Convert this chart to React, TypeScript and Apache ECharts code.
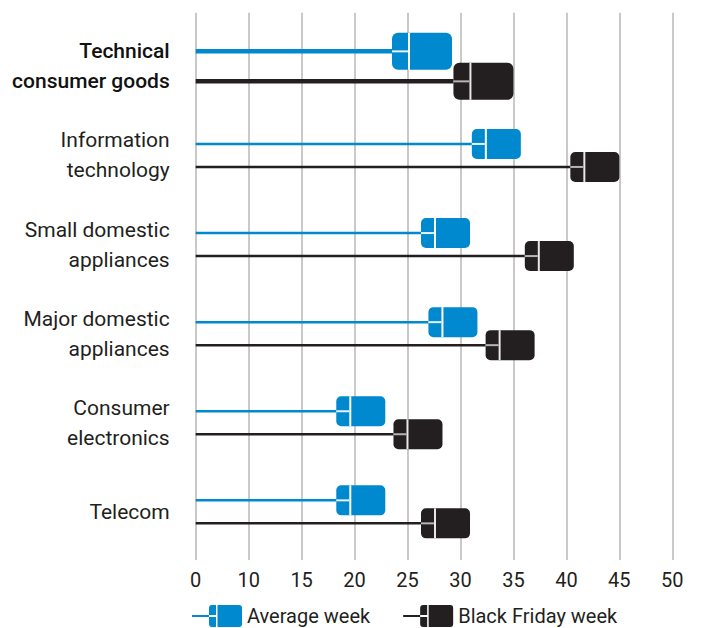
import React, { useEffect, useRef } from "react";
import * as echarts from "echarts";

const CATEGORIES = [
  "Technical\nconsumer goods",
  "Information\ntechnology",
  "Small domestic\nappliances",
  "Major domestic\nappliances",
  "Consumer\nelectronics",
  "Telecom",
];
const AVERAGE_WEEK = [29.2, 35.7, 30.9, 31.6, 22.9, 22.9];
const BLACK_FRIDAY_WEEK = [35.0, 45.0, 40.7, 37.0, 28.3, 30.9];
const TICK_LABELS = ["0", "10", "15", "20", "25", "30", "35", "40", "45", "50"];
const SERIES_NAMES = ["Average week", "Black Friday week"];

const X_MIN = 5;
const X_MAX = 50;
const BLUE = "#0089cf";
const DARK = "#231f20";
const TEXT = "#231f20";
const FONT = "Roboto";

const ICON =
  "path://M0 10H17V12H0Z M17 3Q17 0 20 0H24V10H17Z M17 12H24V22H20Q17 22 17 19Z M25.5 0H47Q50 0 50 3V19Q50 22 47 22H25.5Z";

function makeRender(color: string, sign: number, gapV: string, gapH: string) {
  return (params: any, api: any) => {
    const v = api.value(0);
    const ci = api.value(1);
    const c = api.coord([v, ci]);
    const s = api.coord([X_MIN, ci]);
    const hi = ci === 0;
    const w = hi ? 60 : 49;
    const h = hi ? 37 : 30;
    const r = hi ? 6 : 5;
    const y = c[1] + (hi ? 15 : 11.5) * sign;
    const lw = hi ? 4.5 : 2.5;
    const left = c[0] - w;
    const div = left + Math.round(w * 0.29);
    return {
      type: "group",
      children: [
        {
          type: "rect",
          shape: { x: s[0], y: y - lw / 2, width: left - s[0], height: lw },
          style: { fill: color },
        },
        {
          type: "rect",
          shape: { x: left, y: y - h / 2, width: w, height: h, r },
          style: { fill: color },
        },
        {
          type: "rect",
          shape: { x: div - 1, y: y - h / 2, width: 2, height: h },
          style: { fill: gapV },
        },
        {
          type: "rect",
          shape: { x: left, y: y - 1, width: div - 1 - left, height: 2 },
          style: { fill: gapH },
        },
      ],
    };
  };
}

export default function App() {
  const ref = useRef<HTMLDivElement>(null);
  useEffect(() => {
    if (!ref.current) return;
    const chart = echarts.init(ref.current, null, { renderer: "svg" });
    const option: any = {
      animation: false,
      backgroundColor: "#ffffff",
      textStyle: { fontFamily: FONT },
      legend: {
        left: 192,
        top: 605,
        padding: 0,
        itemWidth: 50,
        itemHeight: 22,
        itemGap: 33,
        textStyle: { fontFamily: FONT, fontSize: 20, color: TEXT },
        data: [
          { name: SERIES_NAMES[0], icon: ICON, itemStyle: { color: BLUE } },
          { name: SERIES_NAMES[1], icon: ICON, itemStyle: { color: DARK } },
        ],
      },
      grid: [
        { left: 195.7, right: 31.7, top: 21.8, bottom: 71.6 },
        { left: 195.7, right: 31.7, top: 12.7, bottom: 68 },
      ],
      xAxis: [
        {
          gridIndex: 0,
          type: "value",
          min: X_MIN,
          max: X_MAX,
          interval: 5,
          show: false,
        },
        {
          gridIndex: 1,
          type: "value",
          min: X_MIN,
          max: X_MAX,
          interval: 5,
          axisLine: { show: false },
          axisTick: { show: false },
          splitLine: { show: true, lineStyle: { color: "#c9c9c9", width: 2 } },
          axisLabel: {
            margin: 10,
            fontFamily: FONT,
            fontSize: 20,
            color: TEXT,
            formatter: (_v: number, i: number) => TICK_LABELS[i],
          },
        },
      ],
      yAxis: [
        {
          gridIndex: 0,
          type: "category",
          inverse: true,
          data: CATEGORIES,
          axisLine: { show: false },
          axisTick: { show: false },
          splitLine: { show: false },
          axisLabel: {
            margin: 26,
            fontFamily: FONT,
            fontSize: 21,
            lineHeight: 30,
            color: TEXT,
            formatter: (val: string, i: number) =>
              i === 0
                ? val
                    .split("\n")
                    .map((l) => `{b|${l}}`)
                    .join("\n")
                : val,
            rich: {
              b: {
                fontFamily: FONT,
                fontSize: 21,
                lineHeight: 30,
                fontWeight: 500,
                color: "#111111",
              },
            },
          },
        },
        { gridIndex: 1, type: "value", show: false, min: 0, max: 1 },
      ],
      series: [
        {
          name: SERIES_NAMES[0],
          type: "custom",
          xAxisIndex: 0,
          yAxisIndex: 0,
          encode: { x: 0, y: 1 },
          itemStyle: { color: BLUE },
          renderItem: makeRender(BLUE, -1, "#ffffff", "#e6f3fb"),
          data: AVERAGE_WEEK.map((v, i) => [v, i]),
          z: 3,
        },
        {
          name: SERIES_NAMES[1],
          type: "custom",
          xAxisIndex: 0,
          yAxisIndex: 0,
          encode: { x: 0, y: 1 },
          itemStyle: { color: DARK },
          renderItem: makeRender(DARK, 1, "#e8e8e8", "#b5b5b5"),
          data: BLACK_FRIDAY_WEEK.map((v, i) => [v, i]),
          z: 3,
        },
      ],
    };
    chart.setOption(option);
    return () => chart.dispose();
  }, []);
  return (
    <div
      ref={ref}
      style={{ position: "fixed", left: 0, top: 0, width: 704, height: 628 }}
    />
  );
}
